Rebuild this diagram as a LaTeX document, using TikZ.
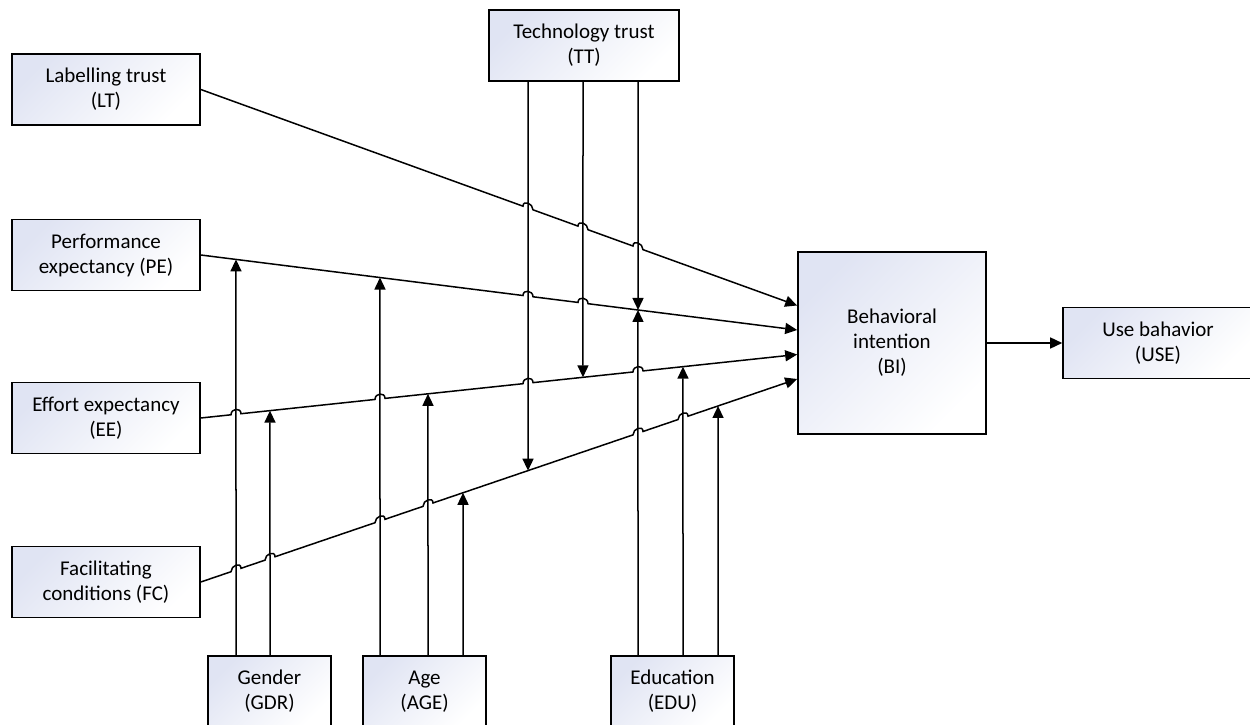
\documentclass[tikz,border=0pt]{standalone}
\usepackage{fontspec}
\setmainfont{Carlito}
\usetikzlibrary{arrows.meta,calc}
\definecolor{boxtint}{RGB}{224,228,243}
% hop size for line crossings
\def\hopr{5pt}
\def\hoph{6.5pt}
% slanted connector from #1 to #2 that hops over the vertical lines at the x positions #3
\newcommand\hopline[3]{%
  \draw[arr] let \p1=(#1), \p2=(#2), \n1={((\y2)-(\y1))/((\x2)-(\x1))} in
    (\p1) \foreach \xc in {#3} {
      -- (\xc pt-\hopr, {\y1+\n1*(\xc pt-\hopr-\x1)})
      .. controls (\xc pt-\hopr, {\y1+\n1*(\xc pt-\hopr-\x1)+\hoph})
              and (\xc pt+\hopr, {\y1+\n1*(\xc pt+\hopr-\x1)+\hoph}) ..
         (\xc pt+\hopr, {\y1+\n1*(\xc pt+\hopr-\x1)})
    } -- (\p2);}
\begin{document}
\begin{tikzpicture}[x=1pt,y=-1pt,
  box/.style={draw=black, line width=1.6pt, top color=boxtint, bottom color=white,
    shading angle=45, minimum width=188pt, minimum height=71pt, align=center,
    inner sep=0pt, font=\fontsize{21}{25}\selectfont},
  conn/.style={line width=1.5pt, draw=black},
  arr/.style={conn, -{Triangle[length=12pt,width=11pt]}}]
\useasboundingbox (0,0) rectangle (1250,725);

% constructs
\node[box] (LT) at (106,89.5) {Labelling trust\\(LT)};
\node[box] (PE) at (106,255) {Performance\\expectancy (PE)};
\node[box] (EE) at (106,418) {Effort expectancy\\(EE)};
\node[box] (FC) at (106,582) {Facilitating\\conditions (FC)};
\node[box, minimum width=190pt] (TT) at (584,45.5) {Technology trust\\(TT)};
\node[box, minimum height=182pt] (BI) at (892,343) {Behavioral\\intention\\(BI)};
\node[box, minimum width=190pt] (USE) at (1158,343) {Use bahavior\\(USE)};
\node[box, minimum width=123pt] (GDR) at (269.5,691.5) {Gender\\(GDR)};
\node[box, minimum width=123pt] (AGE) at (424.5,691.5) {Age\\(AGE)};
\node[box, minimum width=123pt] (EDU) at (672.5,691.5) {Education\\(EDU)};

% entry points on the intention box
\coordinate (bi1) at ([yshift=37.5pt]BI.west);
\coordinate (bi2) at ([yshift=13pt]BI.west);
\coordinate (bi3) at ([yshift=-11.5pt]BI.west);
\coordinate (bi4) at ([yshift=-36pt]BI.west);

% main paths
\hopline{LT.east}{bi1}{528,583,638}
\hopline{PE.east}{bi2}{528,583}
\hopline{EE.east}{bi3}{236,380,528,638}
\hopline{FC.east}{bi4}{236,270,380,428,638,683}
\draw[arr] (BI.east) -- (USE.west);

% x positions of the moderator lines
\coordinate (xg1) at (236,0);
\coordinate (xg2) at (270,0);
\coordinate (xa1) at (380,0);
\coordinate (xa2) at (428,0);
\coordinate (xa3) at (463,0);
\coordinate (xt1) at (528,0);
\coordinate (xt2) at (583,0);
\coordinate (xt3) at (638,0);
\coordinate (xe1) at (638,0);
\coordinate (xe2) at (683,0);
\coordinate (xe3) at (718,0);

\coordinate (g1) at (GDR.north -| xg1);
\coordinate (g2) at (GDR.north -| xg2);
\coordinate (a1) at (AGE.north -| xa1);
\coordinate (a2) at (AGE.north -| xa2);
\coordinate (a3) at (AGE.north -| xa3);
\coordinate (t1) at (TT.south -| xt1);
\coordinate (t2) at (TT.south -| xt2);
\coordinate (t3) at (TT.south -| xt3);
\coordinate (e1) at (EDU.north -| xe1);
\coordinate (e2) at (EDU.north -| xe2);
\coordinate (e3) at (EDU.north -| xe3);

% moderating effects
\draw[arr] (g1) -- (intersection of PE.east--bi2 and g1--xg1);
\draw[arr] (g2) -- (intersection of EE.east--bi3 and g2--xg2);
\draw[arr] (a1) -- (intersection of PE.east--bi2 and a1--xa1);
\draw[arr] (a2) -- (intersection of EE.east--bi3 and a2--xa2);
\draw[arr] (a3) -- (intersection of FC.east--bi4 and a3--xa3);
\draw[arr] (t1) -- (intersection of FC.east--bi4 and t1--xt1);
\draw[arr] (t2) -- (intersection of EE.east--bi3 and t2--xt2);
\draw[arr] (t3) -- (intersection of PE.east--bi2 and t3--xt3);
\draw[arr] (e1) -- (intersection of PE.east--bi2 and e1--xe1);
\draw[arr] (e2) -- (intersection of EE.east--bi3 and e2--xe2);
\draw[arr] (e3) -- (intersection of FC.east--bi4 and e3--xe3);
\end{tikzpicture}
\end{document}
